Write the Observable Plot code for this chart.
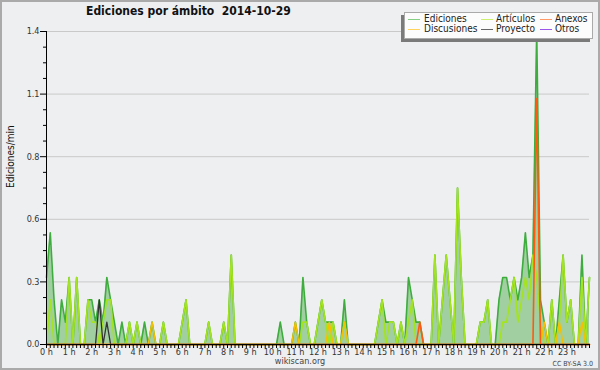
<!DOCTYPE html>
<html><head><meta charset="utf-8">
<script src="https://cdn.jsdelivr.net/npm/d3@7"></script>
<script src="https://cdn.jsdelivr.net/npm/@observablehq/plot@0.6"></script>
<style>
body{margin:0;background:#fff;}
#wrap{position:relative;width:600px;height:370px;background:#eeeff1;overflow:hidden;font-family:"DejaVu Sans Condensed","DejaVu Sans",sans-serif;font-stretch:condensed;}
#wrap svg{position:absolute;left:0;top:0;}
#border{position:absolute;left:0;top:0;width:600px;height:370px;box-sizing:border-box;border:2px solid #aaaaaa;pointer-events:none;}
#title{position:absolute;left:86px;top:4px;font-weight:bold;font-size:12px;line-height:14px;color:#111;white-space:pre;}
#legshadow{position:absolute;left:401px;top:15px;width:189px;height:27px;background:#7a7a7a;}
#legend{position:absolute;left:404px;top:12px;width:189px;height:27px;box-sizing:border-box;background:#fcfcfc;border:1px solid #aaa;}
.lt{position:absolute;font-size:10px;line-height:11px;color:#222;white-space:nowrap;}
.ls{position:absolute;height:1.5px;width:12px;}
#site{position:absolute;left:0;width:600px;text-align:center;top:356px;font-size:9px;line-height:10px;color:#444;}
#lic{position:absolute;right:7px;top:360px;font-size:7px;line-height:8px;color:#444;}
</style></head>
<body>
<div id="wrap">
  <div id="title">Ediciones por ámbito  2014-10-29</div>
  <div id="legshadow"></div>
  <div id="legend"></div>
  <div id="site">wikiscan.org</div>
  <div id="lic">CC BY-SA 3.0</div>
  <div id="border"></div>
</div>
<script>
// 10-minute buckets, 0 h .. 24 h (145 points), editions per minute
const ediciones = [
  0.3,0.5,0.2,0,0.2,0.1,0.3,0,0.3,0,0,0.2,
  0.2,0.1,0.2,0.1,0.3,0.2,0.1,0,0.1,0,0.1,0,
  0.1,0,0.1,0,0.1,0,0,0.1,0,0,0,0,
  0.1,0.2,0,0,0,0,0,0.1,0,0,0,0.1,
  0,0.4,0,0,0,0,0,0,0,0,0,0,
  0,0,0.1,0,0,0,0.1,0,0.3,0.1,0,0,
  0.1,0.2,0.1,0.1,0.1,0,0,0.2,0,0,0,0,
  0,0,0,0,0.1,0.2,0.1,0.1,0.1,0,0.1,0,
  0.3,0.2,0.1,0.1,0,0,0,0.4,0,0.2,0.4,0.2,
  0,0.7,0.3,0,0,0,0,0.1,0.1,0.2,0,0,
  0.2,0.3,0.3,0.2,0.3,0.2,0.3,0.5,0.3,0.4,1.4,0.2,
  0.1,0,0.2,0,0.2,0.4,0.1,0.2,0,0,0.4,0,
  0.3
];
const articulos = [
  0,0.2,0,0,0,0,0.3,0,0.3,0,0,0.2,
  0.1,0.1,0,0.1,0.2,0.2,0,0,0,0,0.1,0,
  0.1,0,0,0,0,0,0,0.1,0,0,0,0,
  0.1,0.2,0,0,0,0,0,0.1,0,0,0,0.1,
  0,0.4,0,0,0,0,0,0,0,0,0,0,
  0,0,0,0,0,0,0,0,0.1,0.1,0,0,
  0.1,0.2,0.1,0,0.1,0,0,0.1,0,0,0,0,
  0,0,0,0,0.1,0.2,0,0.1,0.1,0,0.1,0,
  0.1,0.2,0,0,0,0,0,0.4,0,0.2,0.4,0.2,
  0,0.7,0.3,0,0,0,0,0.1,0.1,0.2,0,0,
  0,0.1,0.1,0.2,0.3,0.1,0.2,0.3,0.2,0.4,0.3,0.1,
  0,0,0.2,0,0.1,0.4,0.1,0.2,0,0,0.3,0,
  0.3
];
const anexos = [
  0,0,0,0,0,0,0,0,0,0,0,0,
  0,0,0,0,0,0,0,0,0,0,0,0,
  0,0,0,0,0,0,0,0,0,0,0,0,
  0,0,0,0,0,0,0,0,0,0,0,0,
  0,0,0,0,0,0,0,0,0,0,0,0,
  0,0,0,0,0,0,0,0,0,0,0,0,
  0,0,0,0,0,0,0,0,0,0,0,0,
  0,0,0,0,0,0,0,0,0,0,0,0,
  0,0,0,0.1,0,0,0,0,0,0,0,0,
  0,0,0,0,0,0,0,0,0,0,0,0,
  0,0,0,0,0,0,0,0,0,0,1.1,0,
  0,0,0,0,0,0,0,0,0,0,0,0,
  0
];
const discusiones = [
  0,0,0,0,0,0,0,0,0,0,0,0,
  0,0,0,0,0,0,0,0,0,0,0,0,
  0,0,0,0,0.1,0,0,0,0,0,0,0,
  0,0,0,0,0,0,0,0,0,0,0,0,
  0,0,0,0,0,0,0,0,0,0,0,0,
  0,0,0,0,0,0,0.1,0,0,0,0,0,
  0,0,0,0.1,0,0,0,0.1,0,0,0,0,
  0,0,0,0,0,0,0,0,0,0,0,0,
  0,0,0,0,0,0,0,0,0,0,0,0,
  0,0,0,0,0,0,0,0,0,0,0,0,
  0,0,0,0,0,0,0,0,0,0,0,0,
  0.1,0,0,0,0.1,0,0,0,0,0,0.1,0,
  0
];
const proyecto = [
  0,0,0,0,0,0,0,0,0,0,0,0,
  0,0,0.2,0,0.1,0,0,0,0,0,0,0,
  0,0,0,0,0,0,0,0,0,0,0,0,
  0,0,0,0,0,0,0,0,0,0,0,0,
  0,0,0,0,0,0,0,0,0,0,0,0,
  0,0,0,0,0,0,0,0,0,0,0,0,
  0,0,0,0,0,0,0,0,0,0,0,0,
  0,0,0,0,0,0,0,0,0,0,0,0,
  0,0,0,0,0,0,0,0,0,0,0,0,
  0,0,0,0,0,0,0,0,0,0,0,0,
  0,0,0,0,0,0,0,0,0,0,0,0,
  0,0,0,0,0,0,0,0,0,0,0,0,
  0
];
const hourTicks = [0,1,2,3,4,5,6,7,8,9,10,11,12,13,14,15,16,17,18,19,20,21,22,23];
const hourLabels = ["0 h","1 h","2 h","3 h","4 h","5 h","6 h","7 h","8 h","9 h","10 h","11 h","12 h","13 h","14 h","15 h","16 h","17 h","18 h","19 h","20 h","21 h","22 h","23 h"];
const yTicks = [0,0.28,0.56,0.84,1.12,1.4];
const yTickLabels = ["0.0","0.3","0.6","0.8","1.1","1.4"];
const yMinorTicks = [0.07,0.14,0.21,0.35,0.42,0.49,0.63,0.70,0.77,0.91,0.98,1.05,1.19,1.26,1.33];
const legendNames = ["Ediciones","Artículos","Anexos","Discusiones","Proyecto","Otros"];
const legendColors = ["#84cf84","#cdef6e","#ff9a66","#ffd35c","#666666","#9b55ea"];

const stepsPerHour = 6;
const rows = arr => arr.map((v, i) => ({t: i / stepsPerHour, v}));
const minorX = d3.range(0, 24 * stepsPerHour + 1).map(i => i / stepsPerHour);

const font = '"DejaVu Sans Condensed","DejaVu Sans",sans-serif';
const chart = Plot.plot({
  width: 600, height: 370,
  marginLeft: 46, marginRight: 11, marginTop: 31, marginBottom: 26,
  style: {background: "transparent", fontFamily: font, fontStretch: "condensed", fontSize: "9px", color: "#333", overflow: "visible"},
  x: {domain: [0, 24], axis: null},
  y: {domain: [0, 1.4], axis: null},
  marks: [
    Plot.gridY(yTicks, {stroke: "#c9c9c9", strokeOpacity: 1}),
    Plot.areaY(rows(ediciones), {x: "t", y: "v", fill: "#9ccc9c", fillOpacity: 0.95}),
    Plot.lineY(rows(ediciones), {x: "t", y: "v", stroke: "#3ead3e", strokeWidth: 1.6}),
    Plot.lineY(rows(articulos), {x: "t", y: "v", stroke: "#a4e31f", strokeWidth: 1.6}),
    Plot.lineY(rows(discusiones), {x: "t", y: "v", stroke: "#f5c000", strokeWidth: 1.5}),
    Plot.lineY(rows(proyecto), {x: "t", y: "v", stroke: "#333333", strokeWidth: 1.3}),
    Plot.lineY(rows(anexos), {x: "t", y: "v", stroke: "#ff5a10", strokeWidth: 1.6}),
    Plot.ruleY([0], {stroke: "#000"}),
    Plot.ruleX([0], {stroke: "#000"}),
    Plot.axisX(minorX, {tickSize: 4, text: null, label: null, stroke: "#000"}),
    Plot.axisX(hourTicks, {tickSize: 0, tickPadding: 4, tickFormat: d => hourLabels[d], label: null, fill: "#333", fontSize: 9}),
    Plot.axisY(yTicks, {tickSize: 6, tickPadding: 1, tickFormat: (d, i) => yTickLabels[yTicks.indexOf(d)], label: null, fill: "#333", stroke: "#000", fontSize: 9}),
    Plot.axisY(yMinorTicks, {tickSize: 3, text: null, label: null, stroke: "#000"}),
    Plot.text(["Ediciones/min"], {frameAnchor: "left", dx: -36, rotate: -90, fontSize: 10, fill: "#111", text: d => d})
  ]
});
const wrap = document.getElementById("wrap");
wrap.insertBefore(chart, wrap.firstChild);

// legend
const legend = document.getElementById("wrap");
const cols = [408, 481, 540];
const txtCols = [424, 496, 555];
legendNames.forEach((name, k) => {
  const c = k % 3, r = Math.floor(k / 3);
  const s = document.createElement("div");
  s.className = "ls";
  s.style.left = cols[c] + "px";
  s.style.top = (18.5 + r * 10) + "px";
  s.style.background = legendColors[k];
  legend.insertBefore(s, document.getElementById("site"));
  const t = document.createElement("div");
  t.className = "lt";
  t.style.left = txtCols[c] + "px";
  t.style.top = (13 + r * 10) + "px";
  t.textContent = name;
  legend.insertBefore(t, document.getElementById("site"));
});
</script>
</body></html>
